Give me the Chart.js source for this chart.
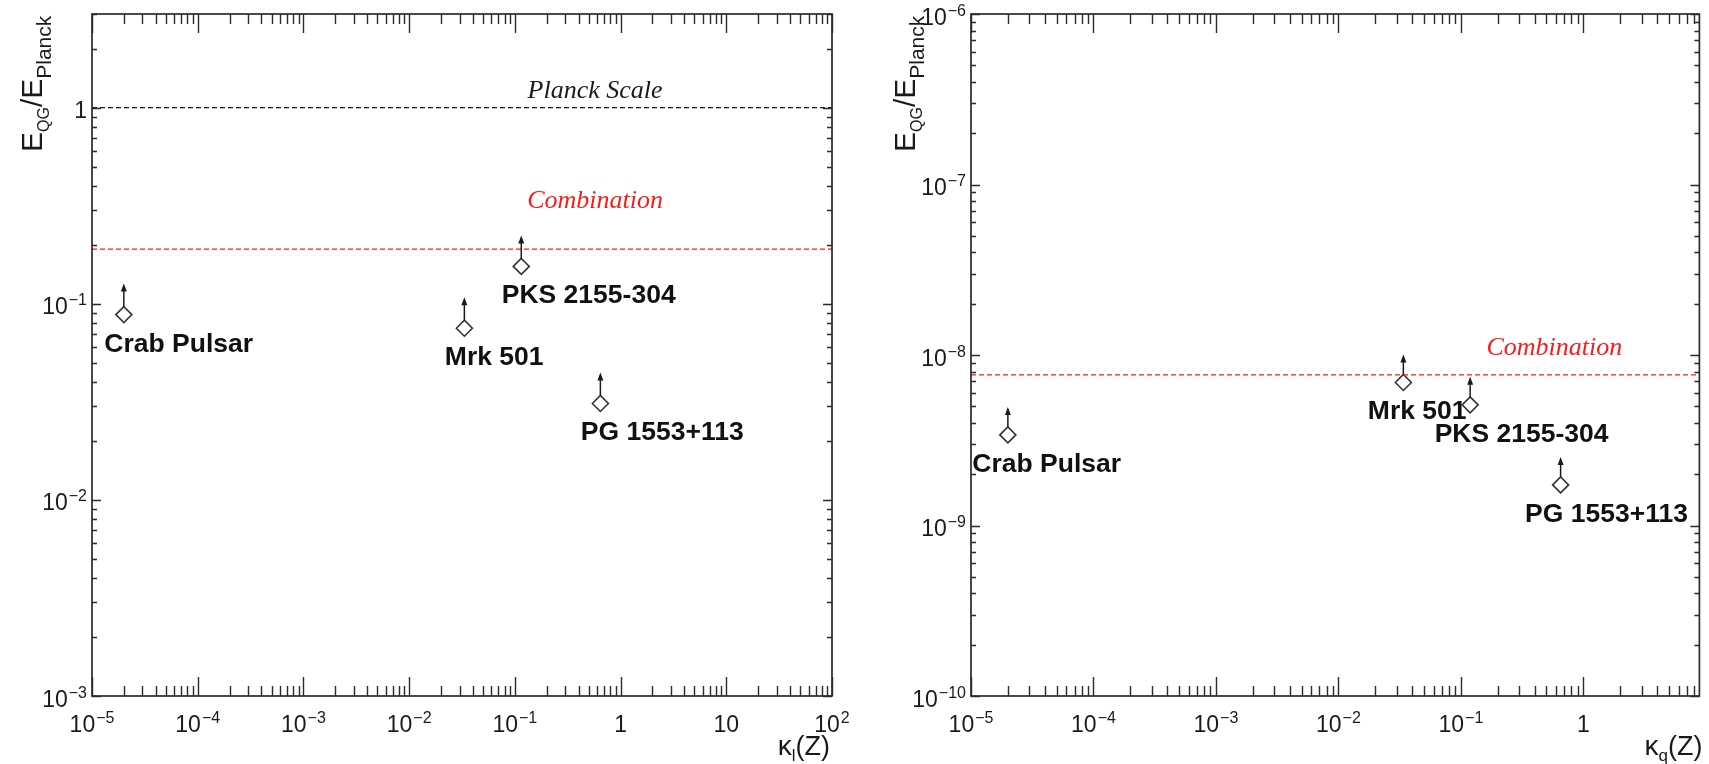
<!DOCTYPE html>
<html>
<head>
<meta charset="utf-8">
<script src="https://cdn.jsdelivr.net/npm/chart.js@4.4.1/dist/chart.umd.min.js"></script>
<style>
html, body { margin: 0; padding: 0; background: #fff; overflow: hidden; }
#linear { position: absolute; left: 0; top: 0; }
#quad { position: absolute; left: 860px; top: 0; }
</style>
</head>
<body>
<canvas id="linear" width="860" height="764"></canvas>
<canvas id="quad" width="849" height="764"></canvas>
<script>
// sources and their limits
const sources = ['Crab Pulsar', 'Mrk 501', 'PKS 2155-304', 'PG 1553+113'];
const kappaL = [2.0e-5, 0.0333, 0.115, 0.644];
const kappaQ = [2.0e-5, 0.0339, 0.119, 0.652];
const limitLinear = [0.088, 0.075, 0.155, 0.031];
const limitQuad = [3.4e-9, 6.9e-9, 5.1e-9, 1.73e-9];
const planckScale = 1;
const combinationLinear = 0.19;
const combinationQuad = 7.65e-9;

// axis ranges and labelled ticks
const xRangeLinear = [1e-5, 100];
const yRangeLinear = [1e-3, 3];
const xRangeQuad = [1e-5, 8.86];
const yRangeQuad = [1e-10, 1e-6];
const xTicksLinear = [1e-5, 1e-4, 1e-3, 1e-2, 1e-1, 1, 10, 100];
const yTicksLinear = [1e-3, 1e-2, 1e-1, 1];
const xTicksQuad = [1e-5, 1e-4, 1e-3, 1e-2, 1e-1, 1];
const yTicksQuad = [1e-10, 1e-9, 1e-8, 1e-7, 1e-6];

const SANS = '"Liberation Sans", Arial, Helvetica, sans-serif';
const SERIF = '"Liberation Serif", "Times New Roman", serif';

function expLabel(v) {
	const e = Math.round(Math.log10(v));
	if (e === 0) return ['1', ''];
	if (e === 1) return ['10', ''];
	return ['10', (e < 0 ? '\u2212' : '') + Math.abs(e)];
}

function logTicks(min, max) {
	const out = [];
	for (let e = Math.floor(Math.log10(min)); e <= Math.ceil(Math.log10(max)); e++) {
		for (let m = 1; m < 10; m++) {
			const v = m * Math.pow(10, e);
			if (v >= min * 0.999 && v <= max * 1.001) out.push({ v: v, major: m === 1 });
		}
	}
	return out;
}

// draws "10" with a superscript; x is the anchor, base is the baseline
function drawExp(ctx, parts, x, base, align) {
	ctx.font = '23px ' + SANS;
	const wb = ctx.measureText(parts[0]).width;
	ctx.font = '16px ' + SANS;
	const ws = parts[1] ? ctx.measureText(parts[1]).width + 1 : 0;
	let left = x - wb - ws;
	if (align === 'center') left = x - (wb + ws) / 2;
	ctx.textAlign = 'left';
	ctx.textBaseline = 'alphabetic';
	ctx.font = '23px ' + SANS;
	ctx.fillText(parts[0], left, base);
	if (parts[1]) {
		ctx.font = '16px ' + SANS;
		ctx.fillText(parts[1], left + wb + 1, base - 9);
	}
}

// pieces: [text, font, dy]
function drawPieces(ctx, pieces, x, y) {
	let cx = x;
	pieces.forEach((p) => {
		ctx.font = p[1];
		ctx.fillText(p[0], cx, y + p[2]);
		cx += ctx.measureText(p[0]).width;
	});
	return cx - x;
}

function piecesWidth(ctx, pieces) {
	let w = 0;
	pieces.forEach((p) => {
		ctx.font = p[1];
		w += ctx.measureText(p[0]).width;
	});
	return w;
}

const framePlugin = {
	id: 'frame',
	afterDraw(chart, args, opts) {
		const ctx = chart.ctx;
		const a = chart.chartArea;
		const x = chart.scales.x;
		const y = chart.scales.y;
		ctx.save();
		ctx.strokeStyle = '#2b2b2b';
		ctx.lineWidth = 1.4;
		ctx.beginPath();
		logTicks(x.min, x.max).forEach((t) => {
			const px = Math.round(x.getPixelForValue(t.v)) + 0.5;
			const len = t.major ? 19 : 10;
			ctx.moveTo(px, a.bottom);
			ctx.lineTo(px, a.bottom - len);
			ctx.moveTo(px, a.top);
			ctx.lineTo(px, a.top + len);
		});
		logTicks(y.min, y.max).forEach((t) => {
			const py = Math.round(y.getPixelForValue(t.v)) + 0.5;
			const len = t.major ? 9 : 5;
			ctx.moveTo(a.left, py);
			ctx.lineTo(a.left + len, py);
			ctx.moveTo(a.right, py);
			ctx.lineTo(a.right - len, py);
		});
		ctx.stroke();
		ctx.lineWidth = 1.7;
		ctx.strokeRect(a.left, a.top, a.right - a.left, a.bottom - a.top);

		ctx.fillStyle = '#1a1a1a';
		opts.xTicks.forEach((v) => {
			drawExp(ctx, expLabel(v), x.getPixelForValue(v), a.bottom + 35.5, 'center');
		});
		opts.yTicks.forEach((v) => {
			drawExp(ctx, expLabel(v), a.left - 5, y.getPixelForValue(v) + 10.5, 'right');
		});

		// y title, rotated
		const yTitle = [
			['E', '30px ' + SANS, 0],
			['QG', '16px ' + SANS, 7],
			['/', '30px ' + SANS, 0],
			['E', '30px ' + SANS, 0],
			['Planck', '21px ' + SANS, 9],
		];
		ctx.save();
		ctx.translate(a.left + opts.yTitleDx, 152);
		ctx.rotate(-Math.PI / 2);
		ctx.textAlign = 'left';
		drawPieces(ctx, yTitle, 0, 0);
		ctx.restore();

		// x title
		const xTitle = [
			['\u03ba', '28px ' + SANS, 0],
			[opts.kappaSub, '17px ' + SANS, 6],
			['(Z)', '27px ' + SANS, 0],
		];
		ctx.textAlign = 'left';
		const w = piecesWidth(ctx, xTitle);
		drawPieces(ctx, xTitle, a.right + opts.xTitleDx - w, a.bottom + 59);
		ctx.restore();
	},
};

const markPlugin = {
	id: 'marks',
	afterDatasetsDraw(chart, args, opts) {
		const ctx = chart.ctx;
		const x = chart.scales.x;
		const y = chart.scales.y;
		ctx.save();
		opts.xs.forEach((xv, i) => {
			const px = x.getPixelForValue(xv);
			const py = y.getPixelForValue(opts.ys[i]);
			ctx.strokeStyle = '#1a1a1a';
			ctx.fillStyle = '#1a1a1a';
			ctx.lineWidth = 1.5;
			ctx.beginPath();
			ctx.moveTo(px, py - 8);
			ctx.lineTo(px, py - opts.arrow + 6);
			ctx.stroke();
			ctx.beginPath();
			ctx.moveTo(px, py - opts.arrow);
			ctx.lineTo(px - 3, py - opts.arrow + 8);
			ctx.lineTo(px + 3, py - opts.arrow + 8);
			ctx.closePath();
			ctx.fill();

			ctx.save();
			ctx.translate(px + opts.labelDx, py + 37);
			ctx.scale(1.06, 1);
			ctx.font = 'bold 25px ' + SANS;
			ctx.textAlign = 'left';
			ctx.textBaseline = 'alphabetic';
			ctx.fillStyle = '#111';
			ctx.fillText(opts.labels[i], 0, 0);
			ctx.restore();
		});
		opts.captions.forEach((c) => {
			ctx.font = 'italic 26px ' + SERIF;
			ctx.textAlign = 'center';
			ctx.textBaseline = 'alphabetic';
			ctx.fillStyle = c.color;
			ctx.fillText(c.text, x.getPixelForValue(c.x), y.getPixelForValue(c.y) + c.dy);
		});
		ctx.restore();
	},
};

function hLine(value, range, color) {
	return {
		type: 'line',
		data: [{ x: range[0], y: value }, { x: range[1], y: value }],
		borderColor: color,
		borderWidth: 1.3,
		borderDash: [5, 3],
		pointRadius: 0,
		fill: false,
	};
}

function makePanel(id, cfg) {
	const points = cfg.xs.map((v, i) => ({ x: v, y: cfg.ys[i] }));
	const datasets = cfg.lines.map((l) => hLine(l.value, cfg.xRange, l.color));
	datasets.push({
		type: 'scatter',
		data: points,
		pointStyle: 'rectRot',
		pointRadius: 8,
		borderColor: '#333',
		borderWidth: 1.6,
		backgroundColor: 'rgba(255,255,255,0)',
	});
	return new Chart(document.getElementById(id), {
		type: 'scatter',
		data: { datasets: datasets },
		plugins: [framePlugin, markPlugin],
		options: {
			responsive: false,
			animation: false,
			layout: { padding: cfg.padding },
			scales: {
				x: { type: 'logarithmic', min: cfg.xRange[0], max: cfg.xRange[1], display: false },
				y: { type: 'logarithmic', min: cfg.yRange[0], max: cfg.yRange[1], display: false },
			},
			plugins: {
				legend: { display: false },
				tooltip: { enabled: false },
				frame: {
					xTicks: cfg.xTicks,
					yTicks: cfg.yTicks,
					yTitleDx: cfg.yTitleDx,
					xTitleDx: cfg.xTitleDx,
					kappaSub: cfg.kappaSub,
				},
				marks: {
					xs: cfg.xs,
					ys: cfg.ys,
					labels: sources,
					labelDx: cfg.labelDx,
					arrow: cfg.arrow,
					captions: cfg.captions,
				},
			},
		},
	});
}

makePanel('linear', {
	xs: kappaL,
	ys: limitLinear,
	xRange: xRangeLinear,
	yRange: yRangeLinear,
	xTicks: xTicksLinear,
	yTicks: yTicksLinear,
	padding: { left: 92, top: 14, right: 28, bottom: 68 },
	lines: [
		{ value: planckScale, color: '#1a1a1a' },
		{ value: combinationLinear, color: '#ff1a1a' },
	],
	captions: [
		{ text: 'Planck Scale', x: 0.574, y: planckScale, dy: -10, color: '#1a1a1a' },
		{ text: 'Combination', x: 0.574, y: combinationLinear, dy: -41, color: '#ff1a1a' },
	],
	labelDx: -19.5,
	arrow: 31,
	yTitleDx: -50,
	xTitleDx: -2,
	kappaSub: 'l',
});

makePanel('quad', {
	xs: kappaQ,
	ys: limitQuad,
	xRange: xRangeQuad,
	yRange: yRangeQuad,
	xTicks: xTicksQuad,
	yTicks: yTicksQuad,
	padding: { left: 111, top: 14, right: 2, bottom: 68 },
	lines: [{ value: combinationQuad, color: '#ff1a1a' }],
	captions: [
		{ text: 'Combination', x: 0.58, y: combinationQuad, dy: -20, color: '#ff1a1a' },
	],
	labelDx: -35.5,
	arrow: 28,
	yTitleDx: -56,
	xTitleDx: 3,
	kappaSub: 'q',
});
</script>
</body>
</html>
